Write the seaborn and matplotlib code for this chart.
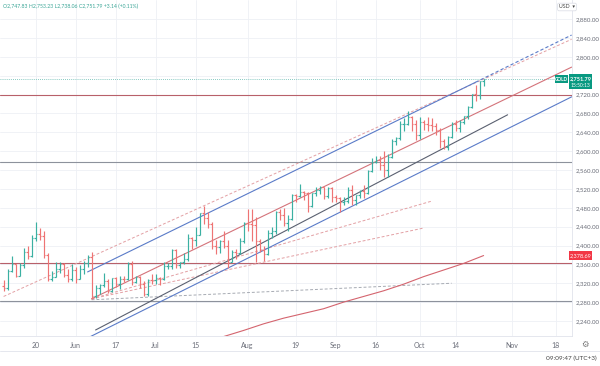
import numpy as np
import pandas as pd
import matplotlib
matplotlib.use("Agg")
import matplotlib.pyplot as plt
import seaborn as sns
from matplotlib.lines import Line2D
from matplotlib.patches import Rectangle

sns.set_theme(style="white")
plt.rcParams['font.family'] = ['Lato', 'DejaVu Sans']

# ---------------- data (daily GOLD, 2024-05-08 .. 2024-10-23) ----------------
start_date = "2024-05-08"
opens = [2314, 2309, 2346, 2360, 2336, 2358, 2386, 2377, 2416, 2425,
         2421, 2379, 2329, 2334, 2351, 2361, 2338, 2328, 2348, 2330,
         2350, 2362, 2376, 2294, 2310, 2316, 2325, 2303, 2332, 2319,
         2329, 2328, 2360, 2322, 2333, 2319, 2298, 2327, 2326, 2332,
         2330, 2356, 2356, 2391, 2358, 2364, 2371, 2415, 2411, 2422,
         2469, 2458, 2445, 2400, 2396, 2409, 2398, 2365, 2386, 2384,
         2410, 2448, 2446, 2443, 2410, 2391, 2382, 2427, 2431, 2472,
         2465, 2447, 2456, 2507, 2504, 2514, 2512, 2484, 2512, 2518,
         2524, 2504, 2521, 2503, 2500, 2493, 2495, 2517, 2497, 2506,
         2516, 2512, 2558, 2578, 2582, 2570, 2559, 2587, 2622, 2628,
         2657, 2657, 2672, 2658, 2634, 2662, 2657, 2656, 2653, 2645,
         2622, 2608, 2630, 2657, 2649, 2662, 2674, 2693, 2721, 2720,
         2747.83]
highs = [2326, 2351, 2378, 2361, 2363, 2394, 2398, 2422, 2450, 2437,
         2430, 2384, 2346, 2364, 2364, 2362, 2350, 2360, 2355, 2358,
         2368, 2380, 2387, 2316, 2318, 2342, 2330, 2332, 2334, 2336,
         2336, 2365, 2368, 2335, 2336, 2324, 2330, 2339, 2339, 2334,
         2365, 2363, 2392, 2393, 2366, 2385, 2424, 2418, 2440, 2469,
         2483, 2470, 2449, 2412, 2412, 2431, 2412, 2390, 2392, 2415,
         2450, 2478, 2477, 2461, 2414, 2400, 2432, 2440, 2474, 2477,
         2479, 2464, 2509, 2510, 2531, 2516, 2513, 2512, 2525, 2527,
         2525, 2524, 2524, 2506, 2502, 2503, 2523, 2529, 2506, 2517,
         2529, 2560, 2586, 2590, 2589, 2600, 2594, 2625, 2630, 2664,
         2670, 2685, 2674, 2665, 2673, 2666, 2672, 2671, 2659, 2648,
         2625, 2632, 2661, 2666, 2667, 2675, 2696, 2722, 2740, 2749,
         2753.23]
lows = [2303, 2306, 2343, 2333, 2335, 2353, 2372, 2375, 2410, 2411,
        2374, 2325, 2325, 2333, 2341, 2334, 2322, 2325, 2321, 2328,
        2340, 2355, 2287, 2288, 2298, 2312, 2300, 2302, 2312, 2308,
        2322, 2327, 2316, 2320, 2309, 2294, 2293, 2318, 2318, 2316,
        2327, 2350, 2350, 2353, 2352, 2360, 2367, 2392, 2400, 2422,
        2446, 2437, 2393, 2383, 2385, 2394, 2353, 2364, 2372, 2381,
        2406, 2430, 2410, 2364, 2386, 2367, 2380, 2415, 2425, 2454,
        2441, 2430, 2454, 2492, 2503, 2497, 2471, 2482, 2505, 2510,
        2499, 2501, 2493, 2493, 2472, 2486, 2491, 2485, 2485, 2500,
        2500, 2510, 2556, 2575, 2560, 2546, 2546, 2586, 2613, 2624,
        2643, 2655, 2643, 2624, 2625, 2645, 2642, 2643, 2635, 2606,
        2605, 2603, 2628, 2642, 2641, 2657, 2668, 2692, 2707, 2711,
        2738.06]
closes = [2309, 2346, 2360, 2336, 2358, 2386, 2377, 2415, 2425, 2421,
          2379, 2329, 2334, 2351, 2361, 2338, 2328, 2348, 2330, 2350,
          2362, 2376, 2294, 2310, 2316, 2325, 2303, 2332, 2319, 2329,
          2328, 2360, 2322, 2333, 2319, 2298, 2327, 2326, 2332, 2330,
          2356, 2356, 2391, 2358, 2364, 2371, 2415, 2411, 2422, 2469,
          2458, 2445, 2400, 2396, 2409, 2398, 2365, 2386, 2384, 2410,
          2448, 2446, 2443, 2410, 2391, 2382, 2427, 2431, 2472, 2465,
          2447, 2456, 2507, 2504, 2514, 2512, 2484, 2512, 2518, 2524,
          2504, 2521, 2503, 2500, 2493, 2495, 2517, 2497, 2506, 2516,
          2512, 2558, 2578, 2582, 2570, 2559, 2587, 2622, 2628, 2657,
          2657, 2672, 2658, 2634, 2662, 2657, 2656, 2653, 2645, 2622,
          2608, 2630, 2657, 2649, 2662, 2674, 2693, 2721, 2720, 2748,
          2751.79]

# moving average curve (bar index, value)
ma_idx = [50, 55, 60, 65, 70, 75, 80, 85, 90, 95, 100, 105, 110, 115, 120]
ma_val = [2196, 2207, 2220, 2234, 2246, 2256, 2266, 2280, 2292, 2304,
          2318, 2334, 2348, 2362, 2378.69]

# horizontal levels
h_red = [2718, 2362]
h_grey = [2577, 2283]

# trend lines: (start index, start price, end index, end price)
line_dashed_pink = [(0, 2292, 142, 2837), (22, 2287, 107, 2494), (22, 2287, 105, 2437)]
line_dashed_grey = [(22, 2285, 112, 2320)]
line_blue = [(21, 2344, 118, 2746), (21, 2204, 142, 2715)]
line_blue_ext = [(118, 2746, 142, 2846)]
line_red = [(22, 2287, 142, 2778)]
line_dark = [(23, 2221, 126, 2677)]

price_ticks = list(range(2240, 2881, 40))
date_labels = ["20", "Jun", "17", "Jul", "15", "Aug", "19", "Sep", "16", "Oct", "14", "Nov", "18"]
date_ticks = ["2024-05-20", "2024-06-03", "2024-06-17", "2024-07-01", "2024-07-15",
              "2024-08-01", "2024-08-19", "2024-09-02", "2024-09-16", "2024-10-01",
              "2024-10-14", "2024-11-01", "2024-11-18"]
last_price = 2751.79
ma_last = 2378.69

# ---------------- build ----------------
days = pd.bdate_range(start_date, "2024-12-31")
pos = {d.strftime("%Y-%m-%d"): i for i, d in enumerate(days)}
n = len(closes)
df = pd.DataFrame({"i": np.arange(n), "o": opens, "h": highs, "l": lows, "c": closes})
df["up"] = df["c"] >= df["o"]

W, H = 600, 366
fig = plt.figure(figsize=(6, 3.66), dpi=100)
ax_bottom_px = 336
ax_right_px = 572
ax = fig.add_axes([0, (H - ax_bottom_px) / H, ax_right_px / W, ax_bottom_px / H])

px_per_unit = 302 / 640.0
ymin = 2880 - (ax_bottom_px - 19) / px_per_unit
ymax = 2880 + 19 / px_per_unit
ax.set_ylim(ymin, ymax)
ax.set_xlim(-0.9, (ax_right_px - 3.6) / 4.0)

xt = [pos[d] for d in date_ticks]
for x in xt:
    ax.axvline(x, color="#eef0f5", lw=0.6, zorder=0)
for p in price_ticks:
    ax.axhline(p, color="#eef0f5", lw=0.6, zorder=0)

up_c, dn_c = "#3bb0a2", "#ee7474"
tw = 0.38
for up, col in [(True, up_c), (False, dn_c)]:
    d = df[df["up"] == up]
    ax.vlines(d["i"], d["l"], d["h"], color=col, lw=0.85, zorder=3)
    ax.hlines(d["o"], d["i"] - tw, d["i"], color=col, lw=0.85, zorder=3)
    ax.hlines(d["c"], d["i"], d["i"] + tw, color=col, lw=0.85, zorder=3)

# horizontals
for p in h_red:
    ax.axhline(p, color="#b8606a", lw=0.8, zorder=2)
for p in h_grey:
    ax.axhline(p, color="#8d929c", lw=0.8, zorder=2)
ax.axhline(last_price, color="#5fb8ad", lw=0.6, ls=(0, (1, 1.5)), zorder=2)

def seg(lines, **kw):
    for (x0, y0, x1, y1) in lines:
        sns.lineplot(x=[x0, x1], y=[y0, y1], ax=ax, estimator=None, sort=False, **kw)

seg(line_dashed_pink, color="#e3a0a4", lw=0.7, linestyle=(0, (3, 2)), zorder=2)
seg(line_dashed_grey, color="#a6aab2", lw=0.7, linestyle=(0, (3, 2)), zorder=2)
seg(line_blue, color="#5a7bc8", lw=0.8, zorder=2)
seg(line_blue_ext, color="#5a7bc8", lw=0.8, linestyle=(0, (3, 2)), zorder=2)
seg(line_red, color="#d4737a", lw=0.8, zorder=2)
seg(line_dark, color="#5a6070", lw=0.8, zorder=2)
sns.lineplot(x=ma_idx, y=ma_val, ax=ax, color="#d4646e", lw=0.8, zorder=2)

# axes cosmetics
for s in ["top", "left"]:
    ax.spines[s].set_visible(False)
ax.spines["right"].set_color("#e0e3eb")
ax.spines["bottom"].set_color("#e0e3eb")
ax.spines["right"].set_linewidth(0.6)
ax.spines["bottom"].set_linewidth(0.6)
ax.yaxis.tick_right()
ax.set_yticks(price_ticks)
ax.set_yticklabels([f"{p:,.2f}" if p != 2760 else "" for p in price_ticks])
ax.set_xticks(xt)
ax.set_xticklabels(date_labels)
ax.tick_params(axis="both", length=0, colors="#6a6d78")
ax.tick_params(axis="y", pad=2.5, labelsize=4.4)
ax.tick_params(axis="x", pad=4, labelsize=5)
ax.set_xlabel("")
ax.set_ylabel("")

# header
fig.text(3 / W, 1 - 6 / H, "O2,747.83 H2,753.23 L2,738.06 C2,751.79 +3.14 (+0.11%)",
         fontsize=3.7, color="#3aa596", va="center", ha="left")

def ypix(p):
    return 19 + (2880 - p) * px_per_unit

def fy(ypx):
    return 1 - ypx / H

# USD box
fig.text(567 / W, fy(7), "USD  ▾", fontsize=3.8, color="#444", va="center", ha="center",
         bbox=dict(boxstyle="round,pad=0.25", fc="white", ec="#d8dbe3", lw=0.5))

# price tags
yp = ypix(last_price)
fig.patches.append(Rectangle((555 / W, fy(yp + 4)), 13 / W, 8 / H, transform=fig.transFigure,
                             fc="#089981", ec="none", zorder=5))
fig.text(561.5 / W, fy(yp), "GOLD", fontsize=3.4, color="white", ha="center", va="center",
         weight="bold", zorder=6)
fig.patches.append(Rectangle((569 / W, fy(yp + 10)), 23 / W, 15 / H, transform=fig.transFigure,
                             fc="#089981", ec="none", zorder=5))
fig.text(580.5 / W, fy(yp - 1), f"{last_price:,.2f}", fontsize=4, color="white",
         ha="center", va="center", weight="bold", zorder=6)
fig.text(580.5 / W, fy(yp + 6), "15:50:13", fontsize=3.6, color="white",
         ha="center", va="center", zorder=6)
ym = ypix(ma_last)
fig.patches.append(Rectangle((569 / W, fy(ym + 4.5)), 23 / W, 9 / H, transform=fig.transFigure,
                             fc="#f23645", ec="none", zorder=5))
fig.text(580.5 / W, fy(ym), f"{ma_last:,.2f}", fontsize=4, color="white",
         ha="center", va="center", zorder=6)

# bottom strip
fig.add_artist(Line2D([0, 1], [fy(351), fy(351)], color="#e0e3eb", lw=0.6))
fig.text(597 / W, fy(358), "09:09:47 (UTC+3)", fontsize=4.6, color="#444", ha="right", va="center")
fig.text(585 / W, fy(344), "⚙", fontsize=6, color="#777", ha="center", va="center",
         family="DejaVu Sans")

fig.savefig("out.png", dpi=100)
